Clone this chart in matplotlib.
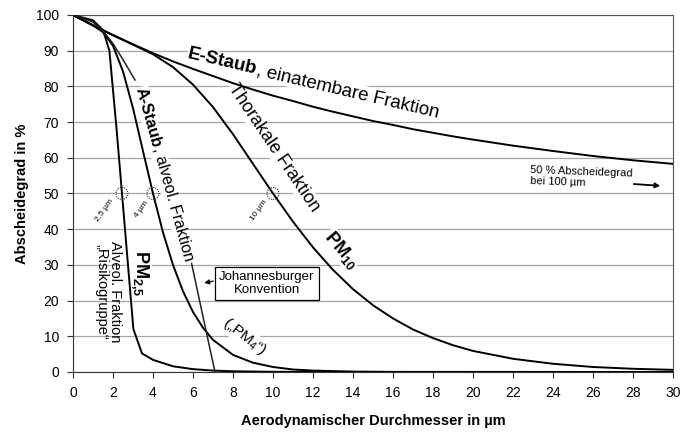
import numpy as np
import matplotlib
matplotlib.use("Agg")
import matplotlib.pyplot as plt
from matplotlib.patches import Ellipse

plt.rcParams['font.family'] = ['Liberation Sans', 'DejaVu Sans']
plt.rcParams['mathtext.fontset'] = 'custom'
plt.rcParams['mathtext.rm'] = 'Liberation Sans'
plt.rcParams['mathtext.bf'] = 'Liberation Sans:bold'
plt.rcParams['mathtext.it'] = 'Liberation Sans:italic'
NARROW = ['Liberation Sans Narrow', 'Liberation Sans', 'DejaVu Sans']

# E-Staub (einatembare Fraktion)
e_x = [0, 1, 2, 3, 4, 5, 6, 7, 8, 9, 10, 11, 12, 13, 14, 15, 16, 17, 18, 19, 20, 22, 24, 26, 28, 30]
e_y = [100, 97.1, 94.4, 91.8, 89.3, 87.0, 84.9, 82.9, 80.9, 79.1, 77.4, 75.9, 74.3, 72.9, 71.6,
       70.3, 69.2, 68.0, 67.0, 66.0, 65.1, 63.4, 61.9, 60.5, 59.3, 58.3]

# Thorakale Fraktion (PM10)
t_x = [0, 1, 2, 3, 4, 5, 6, 7, 8, 9, 10, 11, 12, 13, 14, 15, 16, 17, 18, 19, 20, 22, 24, 26, 28, 30]
t_y = [100, 97.1, 94.3, 91.7, 89.0, 85.4, 80.5, 74.2, 66.6, 58.3, 50.0, 42.1, 34.9, 28.6, 23.2,
       18.7, 15.0, 11.9, 9.5, 7.5, 5.9, 3.7, 2.3, 1.4, 0.9, 0.6]

# A-Staub (alveolengaengige Fraktion, PM4)
a_x = [0, 1, 1.5, 2, 2.5, 3, 3.5, 4, 4.5, 5, 5.5, 6, 6.5, 7, 8, 9, 10, 11, 12, 14, 16]
a_y = [100, 97.1, 95.2, 91.4, 84.2, 73.9, 61.9, 50.0, 39.1, 30.0, 22.6, 16.8, 12.4, 9.0, 4.8,
       2.6, 1.4, 0.7, 0.4, 0.1, 0.0]

# PM2,5
p_x = [0, 1, 1.5, 1.82, 2.18, 2.45, 2.9, 3.02, 3.45, 4, 5, 6, 7, 8, 10, 30]
p_y = [100, 98.5, 95.8, 90.0, 68.0, 50.0, 20.0, 12.0, 5.2, 3.4, 1.6, 0.8, 0.4, 0.2, 0.05, 0.0]

# Johannesburger Konvention (teilweise von Beschriftung verdeckt)
j_x = [0, 1, 1.5, 2.0, 2.5, 3.1, np.nan, 5.93, 6.5, 7.1]
j_y = [100, 98.0, 95.5, 92.0, 87.5, 81.8, np.nan, 30.4, 15.5, 0.0]

x_ticks = list(range(0, 31, 2))
y_ticks = list(range(0, 101, 10))
cut_x = [2.45, 4, 10]
cut_y = [50, 50, 50]
cut_labels = ["2,5 µm", "4 µm", "10 µm"]
# label offsets from the circle (data units)
cut_dx = [-0.85, -0.55, -0.7]
cut_dy = [-4.8, -4.5, -4.8]

fig = plt.figure(figsize=(6.84, 4.32), dpi=100)
ax = fig.add_axes([0.1067, 0.1389, 0.8773, 0.8264])
ax.set_xlim(0, 30)
ax.set_ylim(0, 100)
ax.set_xticks(x_ticks)
ax.set_yticks(y_ticks)
for lab in ax.get_xticklabels() + ax.get_yticklabels():
    lab.set_family(NARROW)
    lab.set_fontsize(10)
ax.tick_params(direction='out', length=4, width=0.8, colors='#333333', labelcolor='black', pad=6)
ax.yaxis.grid(True, color='#a6a6a6', lw=0.9, zorder=1)
ax.set_axisbelow(True)
for s in ['top', 'right']:
    ax.spines[s].set_color('#555555')
    ax.spines[s].set_linewidth(0.8)
for s in ['left', 'bottom']:
    ax.spines[s].set_color('#333333')

ax.set_xlabel("Aerodynamischer Durchmesser in µm", family=NARROW, fontsize=10.5,
              fontweight='bold', labelpad=10)
ax.set_ylabel("Abscheidegrad in %", family=NARROW, fontsize=10.5, fontweight='bold', labelpad=5)

lw = 1.4
ax.plot(e_x, e_y, color='black', lw=lw, zorder=5)
ax.plot(t_x, t_y, color='black', lw=lw, zorder=5)
ax.plot(a_x, a_y, color='black', lw=lw, zorder=5)
ax.plot(p_x, p_y, color='black', lw=lw, zorder=5)
ax.plot(j_x, j_y, color='#222222', lw=1.1, zorder=5)

for cx, cy, txt, dx, dy in zip(cut_x, cut_y, cut_labels, cut_dx, cut_dy):
    ax.add_patch(Ellipse((cx, cy), 0.6, 3.4, fill=False, ls=(0, (1, 1)), lw=0.8,
                         color='#333333', zorder=6))
    ax.text(cx + dx, cy + dy, txt, fontsize=6, rotation=55, ha='center', va='center',
            zorder=3)

box = dict(facecolor='white', edgecolor='none', pad=0.5)


def two_part(x0, y0, bold, rest, ang, size):
    # bold word followed by normal text on one rotated baseline
    r = fig.canvas.get_renderer()
    tmp = ax.text(0, 0, bold, fontsize=size, fontweight='bold')
    w = tmp.get_window_extent(r).width
    tmp.remove()
    ax.text(x0, y0, bold, fontsize=size, fontweight='bold', rotation=ang,
            rotation_mode='anchor', ha='left', va='baseline', bbox=box, zorder=3)
    p0 = ax.transData.transform((x0, y0))
    p1 = p0 + w * np.array([np.cos(np.radians(ang)), np.sin(np.radians(ang))])
    x1, y1 = ax.transData.inverted().transform(p1)
    ax.text(x1, y1, rest, fontsize=size, rotation=ang,
            rotation_mode='anchor', ha='left', va='baseline', bbox=box, zorder=3)


fig.canvas.draw()
two_part(5.7, 87.9, "E-Staub", ", einatembare Fraktion", -13.2, 13.5)
two_part(3.15, 79.3, "A-Staub", ", alveol. Fraktion", -74.5, 11.5)

ax.text(10.05, 62.7, "Thorakale Fraktion", fontsize=13, rotation=-56, ha='center',
        va='center', rotation_mode='anchor', bbox=box, zorder=3)
ax.text(13.4, 34.2, r"$\mathbf{PM_{10}}$", fontsize=13, rotation=-50, ha='center',
        va='center', rotation_mode='anchor', bbox=box, zorder=3)

ax.text(3.35, 27.7, r"$\mathbf{PM_{2{,}5}}$", fontsize=13, rotation=-90, ha='center',
        va='center', rotation_mode='anchor', bbox=box, zorder=3)
ax.text(1.75, 22.4, "Alveol. Fraktion\n\u201eRisikogruppe\u201c", fontsize=10.5, rotation=-90,
        ha='center', va='center', multialignment='center', linespacing=0.95,
        rotation_mode='anchor', zorder=3)
ax.text(8.6, 9.8, "(\u201e$\\mathrm{PM_4}$\u201c)", fontsize=11, rotation=-38, ha='center',
        va='center', rotation_mode='anchor', bbox=box, zorder=3)

ax.text(9.7, 24.7, "Johannesburger\nKonvention", fontsize=9.5, ha='center', va='center',
        linespacing=1.1, zorder=7,
        bbox=dict(facecolor='white', edgecolor='black', lw=0.9, pad=3))
ax.annotate("", xy=(6.43, 24.8), xytext=(7.15, 25.6),
            arrowprops=dict(arrowstyle='-|>', color='black', lw=0.9, mutation_scale=7),
            zorder=7)

ax.text(22.85, 54.5, "50 % Abscheidegrad\nbei 100 µm", fontsize=8, rotation=-2,
        ha='left', va='center', linespacing=1.2, bbox=box, zorder=3)
ax.annotate("", xy=(29.5, 52.1), xytext=(27.9, 52.7),
            arrowprops=dict(arrowstyle='-|>', color='black', lw=1.3, mutation_scale=7),
            zorder=7)

fig.savefig("out.png", dpi=100)
